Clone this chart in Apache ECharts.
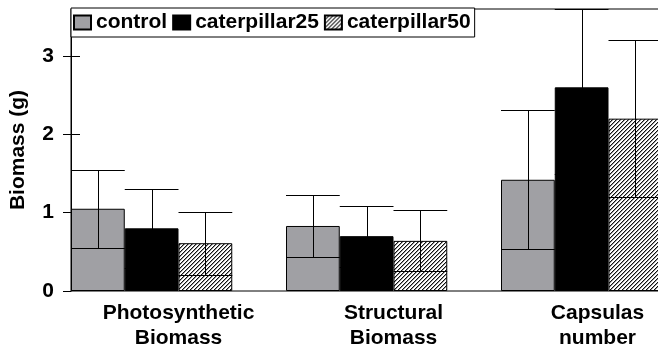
<!DOCTYPE html>
<html>
<head>
<meta charset="utf-8">
<script src="https://cdn.jsdelivr.net/npm/echarts@6/dist/echarts.min.js"></script>
<style>
  html, body { margin: 0; padding: 0; background: #fff; }
  #chart { width: 658px; height: 353px; }
</style>
</head>
<body>
<div id="chart"></div>
<script>
// Mean biomass per treatment with +/- error
const categories = ['Photosynthetic\nBiomass', 'Structural\nBiomass', 'Capsulas\nnumber'];
const seriesNames = ['control', 'caterpillar25', 'caterpillar50'];
const controlMean = [1.05, 0.83, 1.42];
const controlErr  = [0.50, 0.39, 0.89];
const cat25Mean   = [0.80, 0.70, 2.60];
const cat25Err    = [0.50, 0.39, 1.10];
const cat50Mean   = [0.61, 0.64, 2.20];
const cat50Err    = [0.40, 0.39, 1.00];
const yTicks = [0, 1, 2, 3];
const Y_MAX = 3.6;

const FONT = "'Liberation Sans', Arial, sans-serif";
const SLOTS = 4; // three treatment bars plus one empty slot per category band

// Diagonal hatch fill for caterpillar50
function hatchPattern() {
  const c = document.createElement('canvas');
  c.width = 4; c.height = 4;
  const g = c.getContext('2d');
  g.fillStyle = '#ffffff';
  g.fillRect(0, 0, 4, 4);
  for (let i = 0; i < 4; i++) {
    g.fillStyle = '#111111';
    g.fillRect(i, 3 - i, 1, 1);
    g.fillStyle = '#9a9a9a';
    g.fillRect((i + 1) % 4, 3 - i, 1, 1);
  }
  return { image: c, repeat: 'repeat' };
}

function crisp(v) { return Math.round(v) + 0.5; }

function errorSeries(mean, err, slot) {
  return {
    type: 'custom',
    silent: true,
    z: 5,
    data: mean.map((m, i) => [i, m, err[i]]),
    encode: { x: 0, y: 1 },
    renderItem(params, api) {
      const i = api.value(0), m = api.value(1), e = api.value(2);
      const band = api.size([1, 0])[0];
      const w = band / SLOTS;
      const c = api.coord([i, 0]);
      const left = c[0] - band / 2 + slot * w;
      const mid = crisp(left + w / 2);
      const yHi = crisp(api.coord([i, Math.min(m + e, Y_MAX)])[1]);
      const yLo = crisp(api.coord([i, Math.max(m - e, 0)])[1]);
      const st = { stroke: '#000', lineWidth: 1 };
      return {
        type: 'group',
        children: [
          { type: 'line', shape: { x1: mid, y1: yHi, x2: mid, y2: yLo }, style: st },
          { type: 'line', shape: { x1: left, y1: yHi, x2: left + w, y2: yHi }, style: st },
          { type: 'line', shape: { x1: left, y1: yLo, x2: left + w, y2: yLo }, style: st }
        ]
      };
    }
  };
}

const barBorder = { borderColor: '#000', borderWidth: 1 };

const chart = echarts.init(document.getElementById('chart'), null, { renderer: 'canvas' });
chart.setOption({
  animation: false,
  backgroundColor: '#fff',
  textStyle: { fontFamily: FONT },
  legend: {
    data: seriesNames,
    left: 71, top: 8,
    orient: 'horizontal',
    backgroundColor: '#fff',
    borderColor: '#000', borderWidth: 1,
    padding: [4, 4, 4, 2],
    itemGap: 5,
    itemWidth: 17, itemHeight: 14,
    itemTextGap: 2,
    icon: 'rect',
    textStyle: { fontFamily: FONT, fontSize: 21, fontWeight: 'bold', color: '#000' },
    z: 10
  },
  grid: {
    left: 71, right: -58, top: 9, bottom: 62,
    show: true, borderColor: '#000', borderWidth: 1,
    containLabel: false, outerBoundsMode: 'none'
  },
  xAxis: {
    type: 'category',
    data: categories,
    axisLine: { show: false },
    axisTick: { show: false },
    splitLine: { show: false },
    axisLabel: {
      interval: 0,
      margin: 10,
      color: '#000',
      fontFamily: FONT, fontSize: 21, fontWeight: 'bold', lineHeight: 25,
      formatter: (v, idx) => idx === 2 ? v.split('\n').map(s => '{s|' + s + '}').join('\n') : v,
      rich: { s: { fontFamily: FONT, fontSize: 21, fontWeight: 'bold', lineHeight: 25, color: '#000', padding: [0, 22, 0, 0] } }
    }
  },
  yAxis: [{
    type: 'value',
    min: 0, max: Y_MAX, interval: 1,
    name: 'Biomass (g)',
    nameLocation: 'middle',
    nameGap: 42,
    nameTextStyle: { fontFamily: FONT, fontSize: 21, fontWeight: 'bold', color: '#000' },
    axisLine: { show: true, lineStyle: { color: '#000', width: 1 } },
    axisTick: { show: true, inside: false, length: 8, customValues: yTicks, lineStyle: { color: '#000' } },
    axisLabel: { customValues: yTicks, margin: 17, color: '#000', fontFamily: FONT, fontSize: 21, fontWeight: 'bold' },
    splitLine: { show: false }
  }, {
    type: 'value',
    min: 0, max: Y_MAX, interval: 1,
    position: 'left',
    axisLine: { show: false },
    axisTick: { show: true, inside: true, length: 9, customValues: yTicks.slice(1), lineStyle: { color: '#000' } },
    axisLabel: { show: false },
    splitLine: { show: false }
  }],
  series: [
    { name: seriesNames[0], type: 'bar', data: controlMean, barGap: '0%', barCategoryGap: '0%',
      itemStyle: Object.assign({ color: '#a0a0a4' }, barBorder) },
    { name: seriesNames[1], type: 'bar', data: cat25Mean,
      itemStyle: Object.assign({ color: '#000000' }, barBorder) },
    { name: seriesNames[2], type: 'bar', data: cat50Mean,
      itemStyle: Object.assign({ color: hatchPattern() }, barBorder) },
    { name: 'spacer', type: 'bar', data: categories.map(() => null), silent: true },
    errorSeries(controlMean, controlErr, 0),
    errorSeries(cat25Mean, cat25Err, 1),
    errorSeries(cat50Mean, cat50Err, 2)
  ]
});
</script>
</body>
</html>
